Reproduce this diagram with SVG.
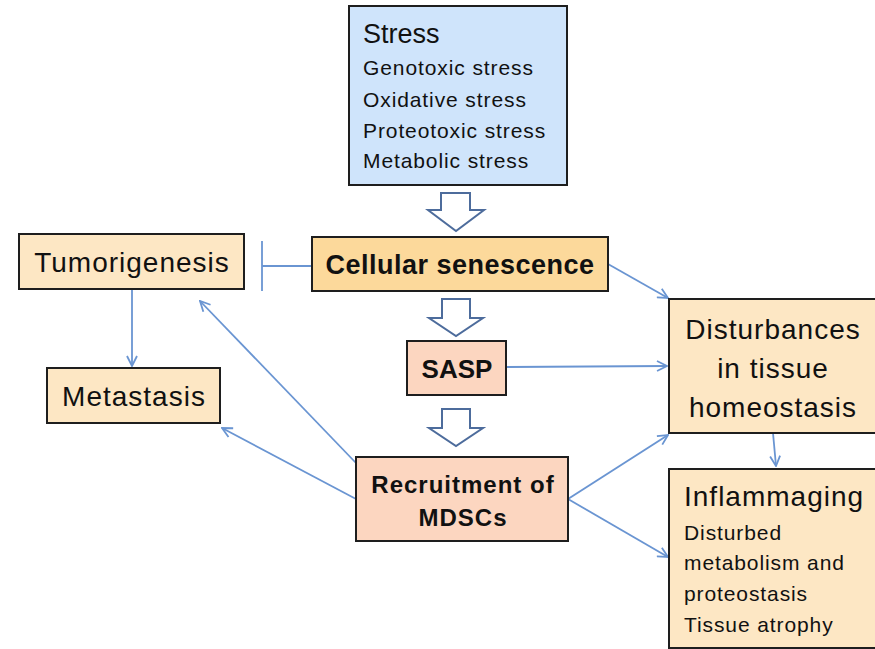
<svg xmlns="http://www.w3.org/2000/svg" width="875" height="649" viewBox="0 0 875 649">
<style>
.box{stroke:#1e1e1e;stroke-width:2}
.blue{fill:#cfe4fb}
.org{fill:#fcd99b}
.lt{fill:#fde7c4}
.sal{fill:#fcd6c0}
text{font-family:"Liberation Sans",Arial,sans-serif;fill:#111}
.big{font-size:28px;letter-spacing:1px}
.bold{font-weight:bold}
.sm{font-size:21px;letter-spacing:0.9px}
.c{text-anchor:middle}
.hol{fill:#fff;stroke:#4d6c9c;stroke-width:2;stroke-linejoin:miter}
.con{fill:none;stroke:#6a95d2;stroke-width:1.8}
</style>
<defs>
<marker id="ah" viewBox="0 0 12 12" refX="11" refY="6" markerWidth="12" markerHeight="12" markerUnits="userSpaceOnUse" orient="auto">
<path d="M1,1 L11,6 L1,11" fill="none" stroke="#6a95d2" stroke-width="1.8"/>
</marker>
</defs>
<g id="connectors">
<path class="con" d="M312,266 H262 M262,241 V291"/>
<path class="con" d="M132,289 V366" marker-end="url(#ah)"/>
<path class="con" d="M608,264 L668,298" marker-end="url(#ah)"/>
<path class="con" d="M506,367 L667,366" marker-end="url(#ah)"/>
<path class="con" d="M773,433 L776,466" marker-end="url(#ah)"/>
<path class="con" d="M568,499 L668,435" marker-end="url(#ah)"/>
<path class="con" d="M568,499 L668,557" marker-end="url(#ah)"/>
<path class="con" d="M356,499 L222,428" marker-end="url(#ah)"/>
<path class="con" d="M356,463 L200,301" marker-end="url(#ah)"/>
<path class="hol" d="M441,193 H470 V210 H484 L456,231 L428,210 H441 Z"/>
<path class="hol" d="M442,299 H470 V318 H483 L456,336 L429,318 H442 Z"/>
<path class="hol" d="M442,409 H470 V428 H483 L456,446 L429,428 H442 Z"/>
</g>
<g id="stress">
<rect class="box blue" x="349" y="6" width="218" height="179"/>
<text x="363" y="43" font-size="27">Stress</text>
<text class="sm" x="363" y="75">Genotoxic stress</text>
<text class="sm" x="363" y="107">Oxidative stress</text>
<text class="sm" x="363" y="138">Proteotoxic stress</text>
<text class="sm" x="363" y="168">Metabolic stress</text>
</g>
<g id="senescence">
<rect class="box org" x="312" y="237" width="296" height="54"/>
<text class="bold c" font-size="27" letter-spacing="0.5" x="460" y="274">Cellular senescence</text>
</g>
<g id="tumorigenesis">
<rect class="box lt" x="19" y="234" width="225" height="55"/>
<text class="big c" x="132" y="272">Tumorigenesis</text>
</g>
<g id="metastasis">
<rect class="box lt" x="47" y="368" width="173" height="55"/>
<text class="big c" x="134" y="406">Metastasis</text>
</g>
<g id="sasp">
<rect class="box sal" x="407" y="341" width="99" height="54"/>
<text class="bold c" font-size="26" x="457" y="378">SASP</text>
</g>
<g id="recruitment">
<rect class="box sal" x="356" y="457" width="212" height="84"/>
<text class="bold c" font-size="24" letter-spacing="1" x="463" y="493">Recruitment of</text>
<text class="bold c" font-size="24" letter-spacing="1" x="463" y="526">MDSCs</text>
</g>
<g id="disturbances">
<rect class="box lt" x="669" y="299" width="207" height="134"/>
<text class="big c" x="773" y="339">Disturbances</text>
<text class="big c" x="773" y="378">in tissue</text>
<text class="big c" x="773" y="417">homeostasis</text>
</g>
<g id="inflammaging">
<rect class="box lt" x="669" y="469" width="207" height="179"/>
<text class="big" x="684" y="506">Inflammaging</text>
<text class="sm" x="684" y="540">Disturbed</text>
<text class="sm" x="684" y="570">metabolism and</text>
<text class="sm" x="684" y="601">proteostasis</text>
<text class="sm" x="684" y="632">Tissue atrophy</text>
</g>
</svg>
